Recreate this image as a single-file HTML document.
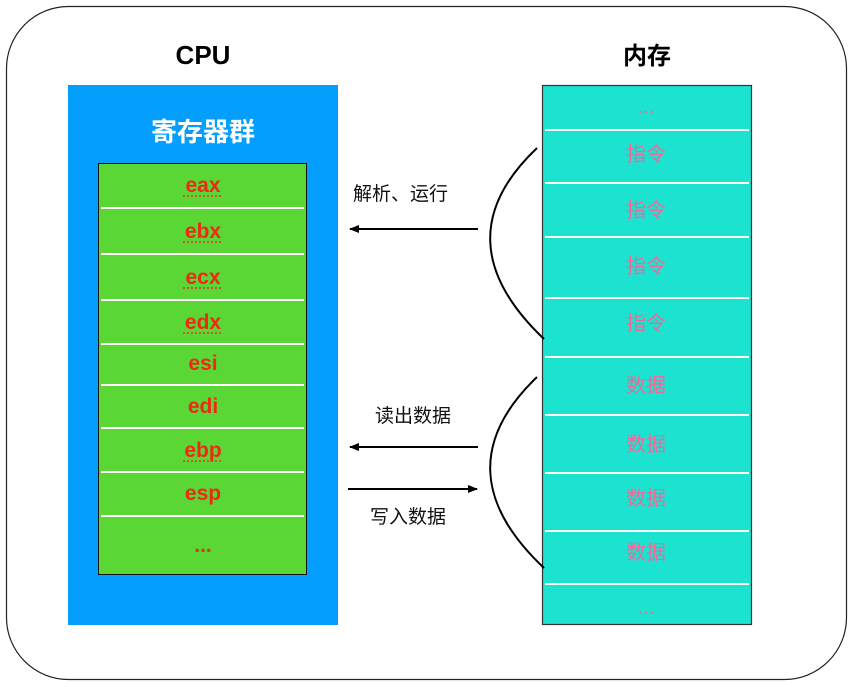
<!DOCTYPE html>
<html><head><meta charset="utf-8"><style>
html,body{margin:0;padding:0;background:#fff;}
svg{display:block;font-family:"Liberation Sans","Noto Sans CJK SC",sans-serif;}
</style></head><body>
<svg width="854" height="687" viewBox="0 0 854 687" xmlns="http://www.w3.org/2000/svg">
<defs><marker id="ah" markerWidth="10" markerHeight="8" refX="9" refY="4" orient="auto" markerUnits="userSpaceOnUse"><path d="M0,0 L10,4 L0,8 Z" fill="#000"/></marker></defs>
<rect x="6.5" y="6.5" width="840" height="673" rx="62" fill="#fff" stroke="#222" stroke-width="1.2"/>
<text x="203" y="64" font-size="26" font-weight="bold" text-anchor="middle">CPU</text>
<text x="647" y="64" font-size="24" font-weight="bold" text-anchor="middle">内存</text>
<rect x="68" y="85" width="270" height="540" fill="#049ffd"/>
<text x="203" y="141" font-size="26" fill="#fff" font-weight="bold" text-anchor="middle">寄存器群</text>
<rect x="98.5" y="163.5" width="208" height="411" fill="#5ad735" stroke="#111" stroke-width="1"/>
<g stroke="#fff" stroke-width="2">
<line x1="101" y1="208" x2="304" y2="208"/><line x1="101" y1="254" x2="304" y2="254"/>
<line x1="101" y1="300" x2="304" y2="300"/><line x1="101" y1="344" x2="304" y2="344"/>
<line x1="101" y1="385" x2="304" y2="385"/><line x1="101" y1="428" x2="304" y2="428"/>
<line x1="101" y1="472" x2="304" y2="472"/><line x1="101" y1="516" x2="304" y2="516"/>
</g>
<g fill="#ee2a14" font-size="21" font-weight="bold" text-anchor="middle">
<text x="203" y="192">eax</text><text x="203" y="238">ebx</text><text x="203" y="284">ecx</text>
<text x="203" y="329">edx</text><text x="203" y="370">esi</text><text x="203" y="413">edi</text>
<text x="203" y="457">ebp</text><text x="203" y="500">esp</text><text x="203" y="552">...</text>
</g>
<g stroke="#e0382a" stroke-width="1.5" stroke-dasharray="2,2">
<line x1="183" y1="196" x2="223" y2="196"/><line x1="183" y1="242" x2="223" y2="242"/>
<line x1="183" y1="288" x2="223" y2="288"/><line x1="183" y1="333" x2="223" y2="333"/>
<line x1="183" y1="461" x2="223" y2="461"/>
</g>
<rect x="542.5" y="85.5" width="209" height="539" fill="#1be3cf" stroke="#333" stroke-width="1.2"/>
<g stroke="#fff" stroke-width="2">
<line x1="545" y1="130" x2="749" y2="130"/><line x1="545" y1="183" x2="749" y2="183"/>
<line x1="545" y1="237" x2="749" y2="237"/><line x1="545" y1="298" x2="749" y2="298"/>
<line x1="545" y1="357" x2="749" y2="357"/><line x1="545" y1="415" x2="749" y2="415"/>
<line x1="545" y1="473" x2="749" y2="473"/><line x1="545" y1="531" x2="749" y2="531"/>
<line x1="545" y1="584" x2="749" y2="584"/>
</g>
<g fill="#ef6a9c" font-size="20" text-anchor="middle">
<text x="646" y="113">...</text>
<text x="646" y="161">指令</text><text x="646" y="217">指令</text><text x="646" y="273">指令</text><text x="646" y="330">指令</text>
<text x="646" y="392">数据</text><text x="646" y="451">数据</text><text x="646" y="505">数据</text><text x="646" y="559">数据</text>
<text x="646" y="614">...</text>
</g>
<path d="M537,148 Q440,240 544,339" fill="none" stroke="#000" stroke-width="2"/>
<path d="M537,377 Q440,470 544,568" fill="none" stroke="#000" stroke-width="2"/>
<g font-size="19" fill="#111">
<text x="353" y="200">解析、运行</text>
<text x="375" y="422">读出数据</text>
<text x="370" y="523">写入数据</text>
</g>
<g stroke="#000" stroke-width="2" fill="none">
<line x1="478" y1="229" x2="350" y2="229" marker-end="url(#ah)"/>
<line x1="478" y1="447" x2="350" y2="447" marker-end="url(#ah)"/>
<line x1="348" y1="489" x2="477" y2="489" marker-end="url(#ah)"/>
</g>
</svg>
</body></html>
